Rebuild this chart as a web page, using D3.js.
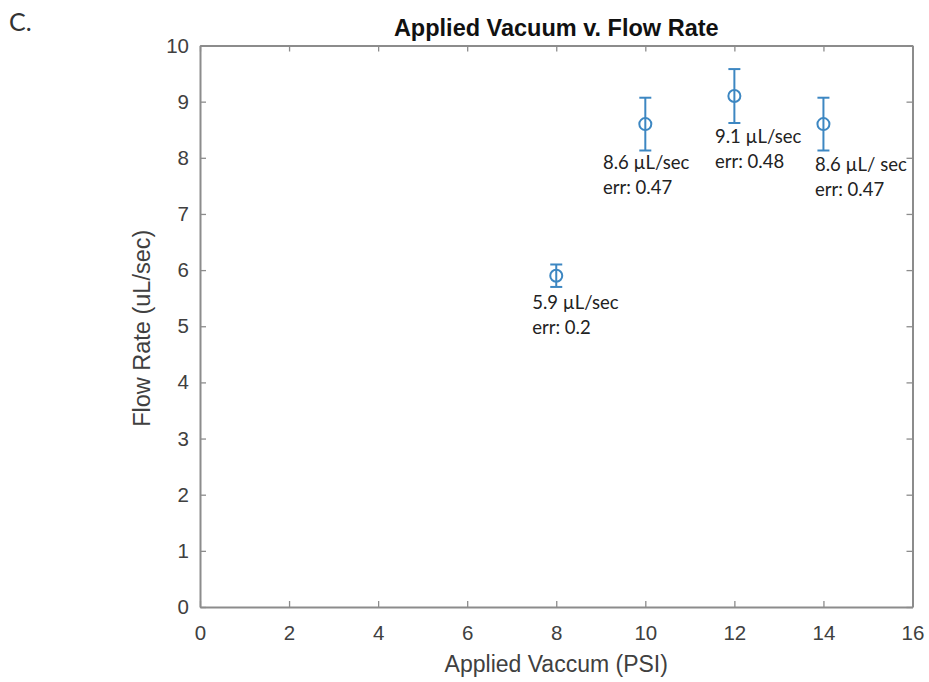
<!DOCTYPE html>
<html>
<head>
<meta charset="utf-8">
<script src="https://cdn.jsdelivr.net/npm/d3@7/dist/d3.min.js"></script>
<style>
  html, body { margin: 0; padding: 0; background: #fff; }
  svg { display: block; }
</style>
</head>
<body>
<svg id="chart" width="929" height="682"></svg>
<script>
// Applied vacuum (PSI) against measured flow rate (µL/sec) with error bars
const vacuum = [8, 10, 12, 14];
const flowRate = [5.9, 8.6, 9.1, 8.6];
const flowErr = [0.2, 0.47, 0.48, 0.47];
const valueLabels = ["5.9 µL/sec", "8.6 µL/sec", "9.1 µL/sec", "8.6 µL/ sec"];
const errLabels = ["err: 0.2", "err: 0.47", "err: 0.48", "err: 0.47"];
// annotation anchors, in axis units (left edge, first baseline)
const noteX = [7.46, 9.05, 11.565, 13.81];
const noteY = [5.31, 7.8, 8.26, 7.77];
const xTicks = [0, 2, 4, 6, 8, 10, 12, 14, 16];
const yTicks = [0, 1, 2, 3, 4, 5, 6, 7, 8, 9, 10];

const svg = d3.select("#chart");
const plotLeft = 200, plotRight = 912.5, plotTop = 45.5, plotBottom = 607;
const axisColor = "#8c8c8c";
const tickTextColor = "#404040";
const markColor = "#3d87c2";
const sans = "'Liberation Sans', Arial, sans-serif";

const x = d3.scaleLinear().domain([0, 16]).range([plotLeft, plotRight]);
const y = d3.scaleLinear().domain([0, 10]).range([plotBottom, plotTop]);

// panel letter
svg.append("text").attr("x", 9).attr("y", 31)
  .attr("font-family", "Lato, sans-serif").attr("font-size", 25)
  .attr("fill", "#333").text("C.");

// axes with inward ticks on all four sides
const g = svg.append("g");
const bottomAxis = g.append("g").attr("transform", `translate(0,${plotBottom})`)
  .call(d3.axisBottom(x).tickValues(xTicks).tickSizeInner(-6).tickSizeOuter(0).tickPadding(18));
const leftAxis = g.append("g").attr("transform", `translate(${plotLeft},0)`)
  .call(d3.axisLeft(y).tickValues(yTicks).tickSizeInner(-6).tickSizeOuter(0).tickPadding(11));
const topAxis = g.append("g").attr("transform", `translate(0,${plotTop})`)
  .call(d3.axisTop(x).tickValues(xTicks).tickSizeInner(-6).tickSizeOuter(0).tickFormat(""));
const rightAxis = g.append("g").attr("transform", `translate(${plotRight},0)`)
  .call(d3.axisRight(y).tickValues(yTicks).tickSizeInner(-6).tickSizeOuter(0).tickFormat(""));

[bottomAxis, leftAxis, topAxis, rightAxis].forEach(a => {
  a.select(".domain").attr("stroke", axisColor).attr("stroke-width", 2);
  a.selectAll(".tick line").attr("stroke", axisColor).attr("stroke-width", 1.3);
  a.selectAll(".tick text").attr("fill", tickTextColor)
    .attr("font-family", sans).attr("font-size", 20.5);
});

// title and axis labels
svg.append("text").attr("x", (plotLeft + plotRight) / 2).attr("y", 36)
  .attr("text-anchor", "middle").attr("font-family", sans)
  .attr("font-weight", "bold").attr("font-size", 23.5).attr("fill", "#111")
  .text("Applied Vacuum v. Flow Rate");
svg.append("text").attr("x", (plotLeft + plotRight) / 2).attr("y", 672)
  .attr("text-anchor", "middle").attr("font-family", sans)
  .attr("font-size", 23).attr("fill", "#404040").text("Applied Vaccum (PSI)");
svg.append("text").attr("transform", `translate(150,${(plotTop + plotBottom) / 2 + 2}) rotate(-90)`)
  .attr("text-anchor", "middle").attr("font-family", sans)
  .attr("font-size", 23.5).attr("fill", "#404040").text("Flow Rate (uL/sec)");

// error bars and markers
const pts = vacuum.map((v, i) => ({ v, f: flowRate[i], e: flowErr[i] }));
const eb = svg.append("g").attr("stroke", markColor).attr("stroke-width", 2).attr("fill", "none");
pts.forEach(p => {
  const cx = x(p.v);
  eb.append("line").attr("x1", cx).attr("x2", cx).attr("y1", y(p.f - p.e)).attr("y2", y(p.f + p.e));
  eb.append("line").attr("x1", cx - 6).attr("x2", cx + 6).attr("y1", y(p.f + p.e)).attr("y2", y(p.f + p.e));
  eb.append("line").attr("x1", cx - 6).attr("x2", cx + 6).attr("y1", y(p.f - p.e)).attr("y2", y(p.f - p.e));
  eb.append("circle").attr("cx", cx).attr("cy", y(p.f)).attr("r", 6);
});

// value annotations
const notes = svg.append("g").attr("font-family", "Lato, sans-serif")
  .attr("font-size", 18.5).attr("fill", "#222");
vacuum.forEach((v, i) => {
  const t = notes.append("text").attr("x", x(noteX[i])).attr("y", y(noteY[i]));
  t.append("tspan").attr("x", x(noteX[i])).text(valueLabels[i]);
  t.append("tspan").attr("x", x(noteX[i])).attr("dy", 25).text(errLabels[i]);
});
</script>
</body>
</html>
